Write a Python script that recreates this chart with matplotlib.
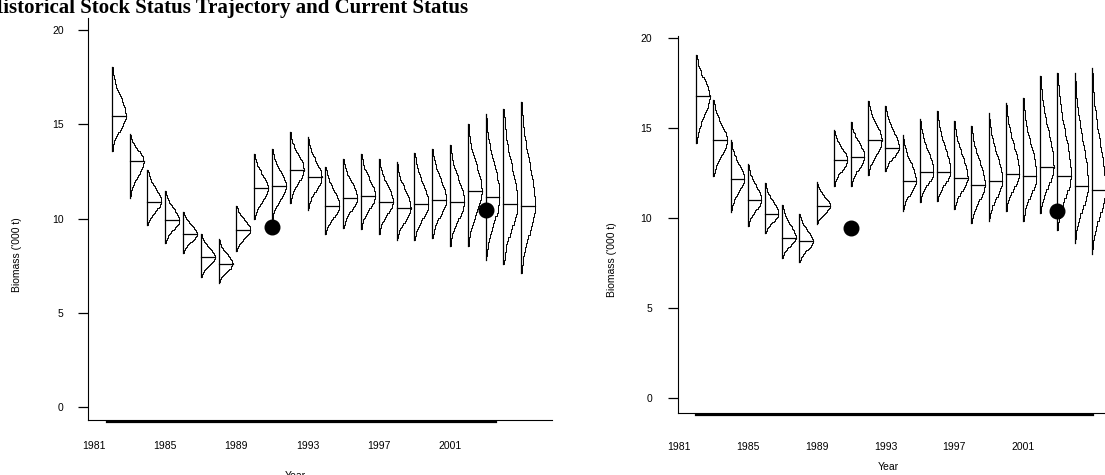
import numpy as np
import matplotlib
matplotlib.use('Agg')
import matplotlib.pyplot as plt
import matplotlib.transforms as mtransforms

# years of the assessment
years = list(range(1982, 2006))

# left panel: min, median, max of biomass per year ('000 t)
lo_left = [13.6, 11.1, 9.65, 8.7, 8.15, 6.9, 6.6, 8.3, 10.0, 10.0, 10.8, 10.45,
           9.2, 9.5, 9.45, 9.2, 8.85, 8.85, 8.95, 8.55, 8.55, 7.8, 7.6, 7.1]
med_left = [15.45, 13.05, 10.9, 9.9, 9.2, 7.95, 7.6, 9.4, 11.6, 11.7, 12.6, 12.2,
            10.65, 11.1, 11.2, 10.9, 10.55, 10.75, 11.0, 10.9, 11.45, 11.15, 10.75, 10.65]
hi_left = [18.05, 14.5, 12.6, 11.45, 10.35, 9.2, 8.9, 10.65, 13.4, 13.7, 14.6, 14.3,
           12.75, 13.15, 13.45, 13.15, 13.0, 13.5, 13.7, 13.9, 15.0, 15.55, 15.8, 16.2]

# right panel
lo_right = [14.15, 12.3, 10.35, 9.55, 9.15, 7.8, 7.55, 9.65, 11.8, 11.8, 12.4, 12.6,
            10.4, 10.9, 10.95, 10.5, 9.7, 9.85, 10.4, 9.85, 10.3, 9.35, 8.6, 8.0]
med_right = [16.75, 14.3, 12.15, 11.0, 10.2, 8.9, 8.7, 10.65, 13.2, 13.4, 14.3, 13.9,
             12.05, 12.55, 12.55, 12.2, 11.85, 12.05, 12.45, 12.3, 12.8, 12.35, 11.8, 11.55]
hi_right = [19.05, 16.55, 14.3, 13.0, 11.95, 10.7, 10.2, 12.0, 14.9, 15.3, 16.5, 16.2,
            14.6, 15.5, 15.95, 15.4, 15.1, 15.8, 16.4, 16.65, 17.9, 18.05, 18.05, 18.3]

# current status points
status_years = [1991, 2003]
status_left = [9.55, 10.45]
status_right = [9.45, 10.4]

xtick_years = [1981, 1985, 1989, 1993, 1997, 2001]
ytick_vals = [0, 5, 10, 15, 20]

plt.rcParams['font.family'] = ['Liberation Sans', 'DejaVu Sans']

fig = plt.figure(figsize=(11.05, 4.75), dpi=100)
W = 1105.0
H = 475.0

ax1 = fig.add_axes([88 / W, 1 - 420 / H, (552 - 88) / W, (420 - 18) / H])
ax2 = fig.add_axes([678 / W, 1 - 413 / H, (1105 - 678) / W, (413 - 36) / H])


def draw_panel(ax, lo, med, hi, pts):
    half = 0.78  # width of the density at its peak, in years
    nb = 40
    for yr, a, m, b in zip(years, lo, med, hi):
        # vertical range line
        ax.plot([yr, yr], [a, b], color='black', lw=0.9)
        # stepped density outline, peak at the median
        edges = np.linspace(a, b, nb + 1)
        mids = 0.5 * (edges[:-1] + edges[1:])
        s = np.where(mids > m, (b - m) / 2.5, (m - a) / 2.5)
        w = half * np.exp(-0.5 * ((mids - m) / s) ** 2)
        xs = [yr]
        ys = [a]
        for i in range(nb):
            xs += [yr + w[i], yr + w[i]]
            ys += [edges[i], edges[i + 1]]
        xs.append(yr)
        ys.append(b)
        ax.plot(xs, ys, color='black', lw=0.7)
        # median line
        ax.plot([yr, yr + half], [m, m], color='black', lw=0.9)
    ax.plot(status_years, pts, 'o', color='black', markersize=10.5)


draw_panel(ax1, lo_left, med_left, hi_left, status_left)
draw_panel(ax2, lo_right, med_right, hi_right, status_right)

ax1.set_xlim(1980.66, 2006.73)
ax1.set_ylim(-0.69, 20.64)
ax2.set_xlim(1980.94, 2005.77)
ax2.set_ylim(-0.83, 20.1)

for ax, ypad, xpad, span in [(ax1, 10, 15, (1981.7, 2003.6)),
                             (ax2, 11, 21, (1982.0, 2005.1))]:
    ax.spines['top'].set_visible(False)
    ax.spines['right'].set_visible(False)
    ax.set_yticks(ytick_vals)
    ax.set_xticks(xtick_years)
    ax.tick_params(axis='y', length=7.5, width=0.9, pad=ypad, labelsize=7.5)
    ax.tick_params(axis='x', length=0, pad=xpad, labelsize=7.5)
    # thick axis line under the plot
    trans = mtransforms.blended_transform_factory(ax.transData, ax.transAxes)
    ax.plot(span, [-0.004, -0.004], color='black', lw=1.6,
            transform=trans, clip_on=False)

fig.text(17 / W, 1 - 255 / H, "Biomass ('000 t)", rotation=90,
         ha='center', va='center', fontsize=7.5)
fig.text(612 / W, 1 - 260 / H, "Biomass ('000 t)", rotation=90,
         ha='center', va='center', fontsize=7.5)
fig.text(295 / W, 1 - 476 / H, 'Year', ha='center', va='center', fontsize=7.5)
fig.text(888 / W, 1 - 467 / H, 'Year', ha='center', va='center', fontsize=7.5)

fig.text(-13 / W, 1 - 13 / H, 'Historical Stock Status Trajectory and Current Status',
         family='Liberation Serif', fontweight='bold', fontsize=15,
         ha='left', va='baseline')

plt.savefig('out.png', dpi=100)
